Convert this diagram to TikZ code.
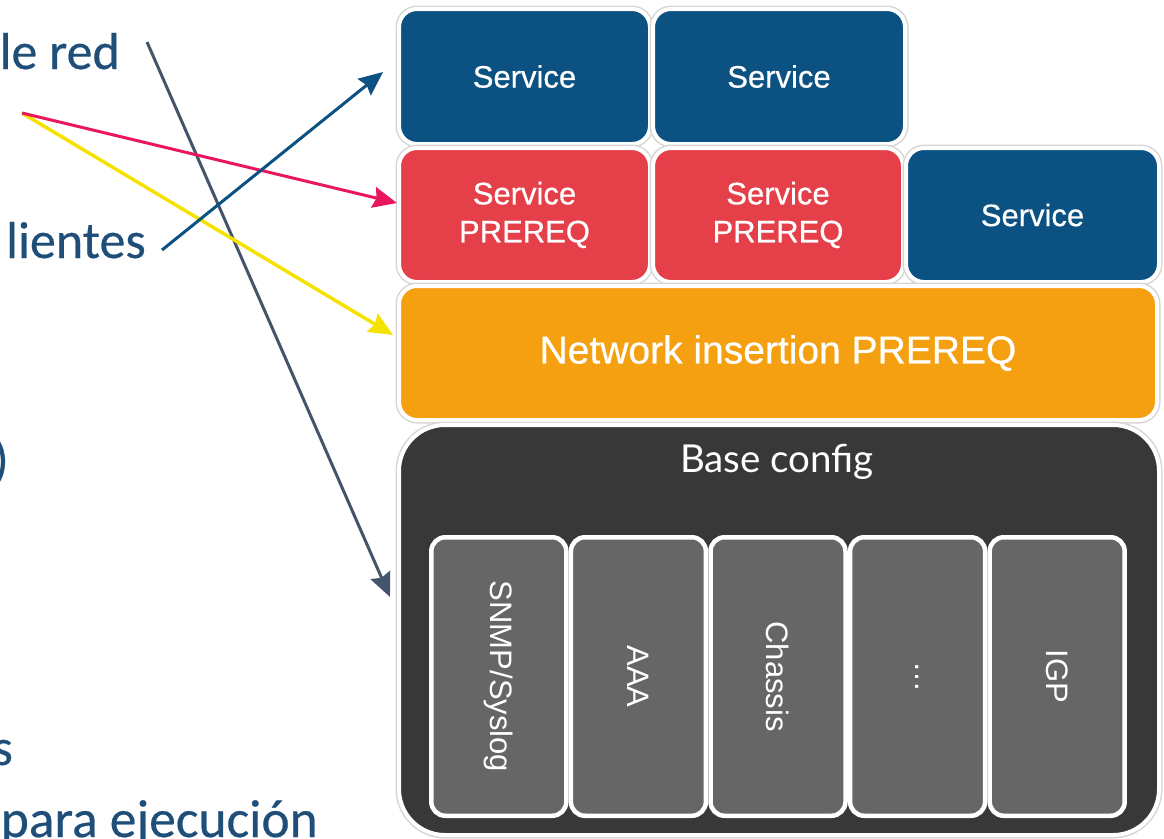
\documentclass[tikz,border=0pt]{standalone}
\usepackage{fontspec}
\setmainfont{Liberation Sans}
\newfontfamily\boxfont[FakeBold=0.6]{Liberation Sans}
\newfontfamily\calfont[FakeBold=0.4]{Carlito}
\newfontfamily\basefont{Lato}
\usetikzlibrary{arrows.meta}
\definecolor{txtblue}{RGB}{31,78,121}
\definecolor{svcblue}{RGB}{11,82,130}
\definecolor{prered}{RGB}{229,64,74}
\definecolor{netorange}{RGB}{245,160,16}
\definecolor{basedark}{RGB}{56,56,56}
\definecolor{modgray}{RGB}{102,102,102}
\definecolor{edgegray}{RGB}{214,214,214}
\definecolor{arrslate}{RGB}{68,84,106}
\definecolor{arrpink}{RGB}{233,24,92}
\definecolor{arryellow}{RGB}{245,226,0}
\definecolor{arrblue}{RGB}{11,82,130}
\tikzset{
  blk/.style={rectangle, rounded corners=18pt, draw=white, line width=4pt,
    preaction={draw=edgegray, line width=7pt},
    text=white, font=\boxfont\fontsize{31}{38}\selectfont, align=center, inner sep=0pt},
  svc/.style={blk, fill=svcblue},
  pre/.style={blk, fill=prered},
  modbox/.style={rectangle, rounded corners=14pt, draw=white, line width=4.5pt,
    fill=modgray, inner sep=0pt, minimum width=135pt, minimum height=278.5pt},
  modlabel/.style={rotate=-90, text=white, font=\fontsize{31}{38}\selectfont},
  lefttxt/.style={text=txtblue, font=\calfont\fontsize{52}{60}\selectfont, inner sep=0pt},
  link/.style={line width=3pt, -{Stealth[length=24pt, width=21pt, inset=3pt]}},
}
\begin{document}
\begin{tikzpicture}[x=1pt, y=-1pt]
\useasboundingbox (0,0) rectangle (1164,838);

% left-hand text fragments
\node[lefttxt, anchor=base east] (tred) at (120,69) {le red};
\node[lefttxt, anchor=base east] (tcli) at (146,258) {lientes};
\node[lefttxt, anchor=base east] (tpar) at (9,477) {)};
\node[lefttxt, anchor=base east] (ts) at (13,765) {s};
\node[lefttxt, anchor=base east, font=\calfont\fontsize{53.5}{60}\selectfont] (tpara) at (318,837) {para ejecución};

% service stack
\node[svc, minimum width=251pt, minimum height=135pt] (s1) at (524.5,76.5) {Service};
\node[svc, minimum width=252pt, minimum height=135pt] (s2) at (779,76.5) {Service};
\node[pre, minimum width=251pt, minimum height=134pt] (p1) at (524.5,215) {Service\\PREREQ};
\node[pre, minimum width=250pt, minimum height=134pt] (p2) at (778,215) {Service\\PREREQ};
\node[svc, minimum width=253pt, minimum height=134pt] (s3) at (1032.5,215) {Service};
\node[blk, fill=netorange, minimum width=758pt, minimum height=134pt,
      font=\boxfont\fontsize{39}{46}\selectfont] (net) at (778,353) {Network insertion PREREQ};

% base configuration block
\node[blk, fill=basedark, rounded corners=46pt, minimum width=760pt, minimum height=410pt] (base) at (779,630) {};
\node[text=white, font=\basefont\fontsize{38.5}{44}\selectfont, inner sep=0pt] (basetitle) at (777,462) {Base config};

\node[modbox] (m1) at (498.8,676.5) {};
\node[modbox] (m2) at (638.4,676.5) {};
\node[modbox] (m3) at (778,676.5) {};
\node[modbox] (m4) at (917.6,676.5) {};
\node[modbox] (m5) at (1057.2,676.5) {};
\node[modlabel] at (m1) {SNMP/Syslog};
\node[modlabel] at (m2) {AAA};
\node[modlabel] at (m3) {Chassis};
\node[modlabel] at (m4) {…};
\node[modlabel] at (m5) {IGP};

% connector end points
\coordinate (slateS) at (147,42);
\coordinate (slateE) at (390,597);
\coordinate (multiS) at (22,113);
\coordinate (pinkE) at (397,203);
\coordinate (yellowE) at (393,335);
\coordinate (blueS) at (162,250);
\coordinate (blueE) at (383,72);

\draw[link, draw=arrslate, fill=arrslate] (slateS) -- (slateE);
\draw[link, draw=arryellow, fill=arryellow, line width=3.5pt] (multiS) -- (yellowE);
\draw[link, draw=arrpink, fill=arrpink] (multiS) -- (pinkE);
\draw[link, draw=arrblue, fill=arrblue] (blueS) -- (blueE);
\end{tikzpicture}
\end{document}
